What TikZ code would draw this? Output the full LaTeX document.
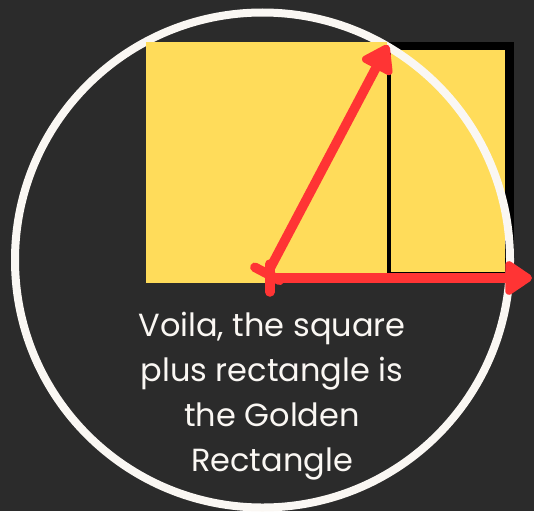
\documentclass[tikz,border=0pt]{standalone}
\usepackage{fontspec}
\setmainfont{Poppins}
\usepackage{xcolor}
\usetikzlibrary{arrows.meta,positioning}
\definecolor{board}{HTML}{2B2B2B}
\definecolor{gold}{HTML}{FFDC5A}
\definecolor{flame}{HTML}{FF3434}
\definecolor{chalk}{HTML}{FAF7F3}
\tikzset{
  panel/.style={fill=gold, draw=none, inner sep=0pt, outer sep=0pt},
  frame/.style={fill=black, draw=none, inner sep=0pt, outer sep=0pt},
  ring/.style={draw=chalk, line width=8pt},
  span/.style={draw=flame, line width=9.5pt, line cap=round,
    {Bar[width=28pt,round]}-{Triangle[length=30pt,width=38pt,round]}},
  caption/.style={text=chalk, align=center, inner sep=0pt,
    font=\fontsize{32}{44.8}\selectfont}
}

\begin{document}
\begin{tikzpicture}[x=1pt, y=-1pt]
  \fill[board] (0,0) rectangle (534,511);
  \useasboundingbox (0,0) rectangle (534,511);

  % half rectangle with its black frame
  \node[frame, minimum width=127pt, minimum height=232pt, anchor=north west] (box) at (387,42) {};
  \node[panel, minimum width=114pt, minimum height=222pt, above right=2pt and 4pt of box.south west] (half) {};

  \draw[ring] (262.5,260) circle[radius=247.5];

  % the square
  \node[panel, minimum width=241pt, minimum height=241pt, left=0pt of box.north west, anchor=north east] (sq) {};

  \coordinate (foot) at (265,278);
  \coordinate (apex) at (388,45);
  \coordinate (edge) at (532,278);
  \draw[span] (foot) -- (apex);
  \draw[span] (foot) -- (edge);

  \node[caption] (note) at (272,396) {Voila, the square\\plus rectangle is\\the Golden\\Rectangle};
\end{tikzpicture}
\end{document}
